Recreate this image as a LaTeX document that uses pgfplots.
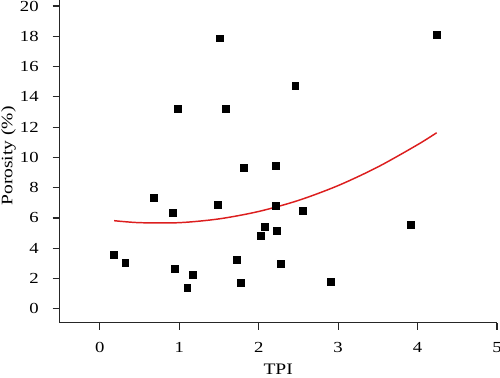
\documentclass[border=0pt]{standalone}
\usepackage{pgfplots}
\pgfplotsset{compat=1.18}
\usepackage{fontspec}
\setmainfont{Liberation Serif}[FakeStretch=1.22]
\begin{document}
\begin{tikzpicture}
\begin{axis}[
  name=ax,
  scale only axis,
  width=328pt, height=242pt,
  xmin=-0.51, xmax=5, ymin=-0.93, ymax=20.4,
  axis x line*=bottom, axis y line*=left,
  axis line style={line width=0.85pt, black!85},
  tick style={line width=0.85pt, black!85},
  tick align=outside,
  major tick length=5pt,
  xtick={0,1,2,3,4,5}, ytick={0,2,...,20},
  font=\fontsize{11.5pt}{13pt}\selectfont,
  /pgf/number format/assume math mode=true,
  xticklabel style={anchor=center, yshift=-13.5pt},
  yticklabel style={anchor=east, xshift=-7pt},
  xlabel={TPI}, ylabel={Porosity (\%)},
  xlabel style={at={(axis description cs:0.5,-0.145)}, anchor=center, font=\fontsize{12pt}{14pt}\selectfont},
  ylabel style={at={(axis description cs:-0.116,0.517)}, anchor=center, font=\fontsize{12pt}{14pt}\selectfont},
  clip=false,
]
\addplot[only marks, mark=square*, mark size=2.6pt, black] coordinates {
(1.51,17.87) (0.98,13.2) (1.58,13.2) (1.81,9.32) (4.24,18.13) (2.46,14.74) (2.22,9.45)
(0.68,7.36) (0.92,6.35) (1.49,6.85) (0.18,3.59) (0.32,3.07) (0.94,2.65) (1.17,2.27)
(1.10,1.41) (1.72,3.26) (1.77,1.74) (2.22,6.79) (2.56,6.48) (2.08,5.44) (2.02,4.80)
(2.23,5.14) (2.28,2.95) (2.91,1.76) (3.92,5.58)
};
\addplot[smooth, color={rgb,255:red,220;green,30;blue,30}, line width=1.1pt] coordinates {
(0.18,5.82) (0.5,5.69) (1.0,5.69) (1.5,5.94) (2.0,6.43) (2.5,7.16) (3.0,8.14) (3.5,9.37) (4.0,10.84) (4.24,11.63)
};
\end{axis}
\pgfresetboundingbox
\path[use as bounding box] ([shift={(-44.5pt,-40.7pt)}]ax.south west) rectangle ([shift={(2.25pt,0pt)}]ax.north east);
\end{tikzpicture}
\end{document}
